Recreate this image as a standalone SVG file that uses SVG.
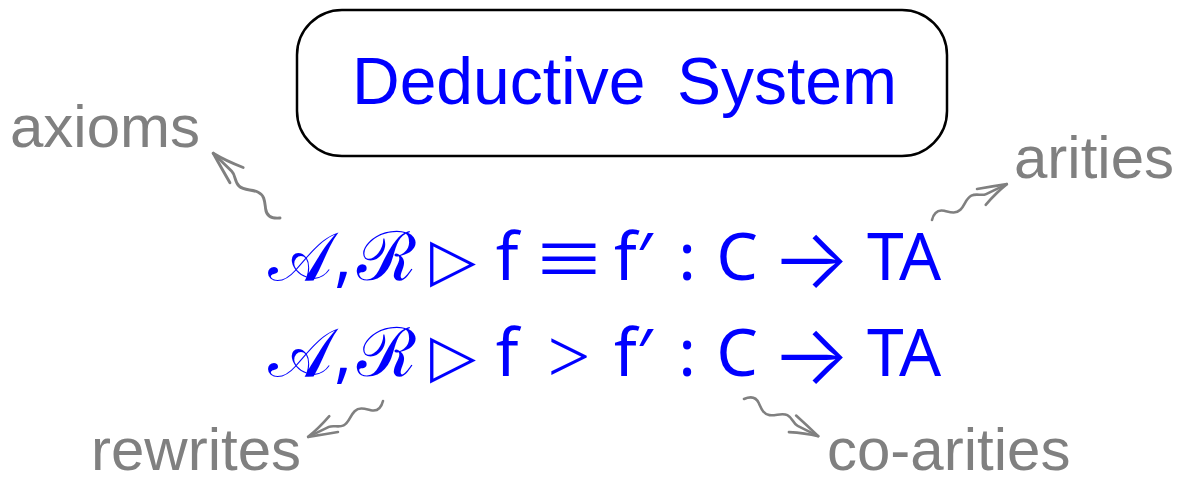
<svg xmlns="http://www.w3.org/2000/svg" width="1181" height="483" viewBox="0 0 1181 483">
<style>
.lbl{font-family:"Liberation Sans",Arial,sans-serif;font-size:60px;fill:#808080}
.title{font-family:"Liberation Sans",Arial,sans-serif;font-size:66px;fill:#0000ff}
.m{font-family:"Noto Sans","DejaVu Sans",sans-serif;font-size:66px;fill:#0000ff;text-anchor:middle}
.cal{font-family:"DejaVu Serif","Liberation Serif",serif;font-size:68px;fill:#0000ff;text-anchor:middle}
.sym{font-family:"DejaVu Sans",sans-serif;font-size:60px;fill:#0000ff;text-anchor:middle}
.rel{font-family:"Liberation Serif","Times New Roman",serif;font-size:76px;fill:#0000ff;text-anchor:middle}
.arr{font-family:Inter,"DejaVu Sans",sans-serif;font-weight:300;font-size:84px;fill:#0000ff;text-anchor:middle}
.sq{fill:none;stroke:#808080;stroke-width:2.6;stroke-linecap:round}
</style>
<defs>
<g id="squig">
<path class="sq" d="M0,0 C5,-6 10,-7 15,-3 C20,1 24,5 30,3 C36,1 40,-5 46,-5 C52,-5 55,0 60,0 Q72,0 83,0"/>
<path class="sq" d="M54,-8.5 Q70,-4 83,0 M55,9.5 Q70,3 83,0"/>
</g>
</defs>
<g id="deductive-system">
<rect x="297" y="10" width="650" height="146" rx="45" ry="45" fill="#ffffff" stroke="#000000" stroke-width="2.5"/>
<text class="title" x="352" y="104">Deductive</text>
<text class="title" x="677" y="104">System</text>
</g>
<g id="formula-eq">
<text class="cal" x="300" y="280">𝒜</text>
<text class="m" x="343" y="280">,</text>
<text class="cal" x="386" y="280">ℛ</text>
<text class="sym" x="453" y="280">▷</text>
<text class="m" x="507" y="280">f</text>
<text class="rel" x="0" y="0" transform="translate(569,289) scale(1.5,1.2)">≡</text>
<text class="m" x="633" y="280">f′</text>
<text class="m" x="687" y="280">:</text>
<text class="m" x="737" y="280">C</text>
<text class="arr" x="811" y="288">→</text>
<text class="m" x="904" y="280">TA</text>
</g>
<g id="formula-rw">
<text class="cal" x="300" y="376">𝒜</text>
<text class="m" x="343" y="376">,</text>
<text class="cal" x="386" y="376">ℛ</text>
<text class="sym" x="453" y="376">▷</text>
<text class="m" x="507" y="376">f</text>
<text class="rel" x="569" y="382">&gt;</text>
<text class="m" x="633" y="376">f′</text>
<text class="m" x="687" y="376">:</text>
<text class="m" x="737" y="376">C</text>
<text class="arr" x="811" y="384">→</text>
<text class="m" x="904" y="376">TA</text>
</g>
<g id="axioms"><text class="lbl" x="10" y="147">axioms</text></g>
<g id="arities"><text class="lbl" x="1014" y="178">arities</text></g>
<g id="rewrites"><text class="lbl" x="91" y="470">rewrites</text></g>
<g id="co-arities"><text class="lbl" x="827" y="470">co-arities</text></g>
<g id="connectors">
<use href="#squig" transform="translate(280,218) rotate(-135.9) scale(1.12)"/>
<use href="#squig" transform="translate(932,220) rotate(-25.6)"/>
<use href="#squig" transform="translate(383,401) rotate(154.4)"/>
<use href="#squig" transform="translate(744,399) rotate(26.6)"/>
</g>
</svg>
